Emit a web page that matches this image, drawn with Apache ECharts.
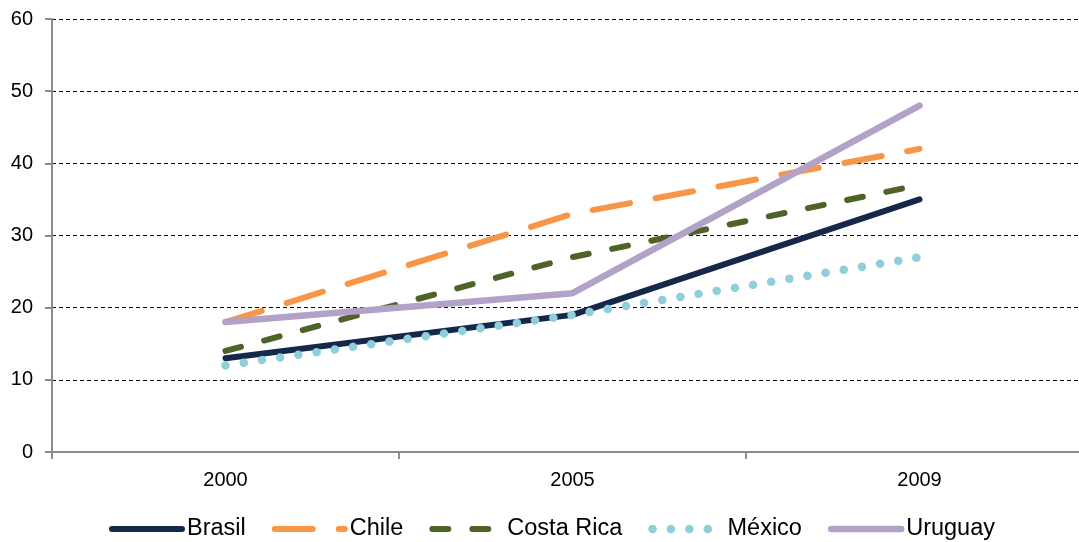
<!DOCTYPE html>
<html>
<head>
<meta charset="utf-8">
<script src="https://cdn.jsdelivr.net/npm/echarts@6/dist/echarts.min.js"></script>
<style>html,body{margin:0;padding:0;background:#fff;}#c{width:1079px;height:542px;}</style>
</head>
<body>
<div id="c"></div>
<script>
const categories = ['2000', '2005', '2009'];
const brasil = [13, 19, 35];
const chile = [18, 33, 42];
const costaRica = [14, 27, 37];
const mexico = [12, 19, 27];
const uruguay = [18, 22, 48];
const yTicks = [0, 10, 20, 30, 40, 50, 60];

const chart = echarts.init(document.getElementById('c'), null, {renderer: 'canvas'});
const font = 'Arial, "Liberation Sans", sans-serif';

function mk(name, data, color, width, type, cap) {
  return {
    name: name, type: 'line', data: data, symbol: 'none', smooth: false,
    lineStyle: {color: color, width: width, type: type, cap: cap || 'round'},
    itemStyle: {color: color},
    emphasis: {disabled: true}, animation: false
  };
}

const series = [
  mk('Brasil', brasil, '#14284a', 6, 'solid', 'round'),
  mk('Chile', chile, '#f79646', 6, [38, 26], 'round'),
  mk('Costa Rica', costaRica, '#4f6228', 6, [16, 24], 'round'),
  mk('México', mexico, '#92cddc', 8.5, [0.1, 18.3], 'round'),
  mk('Uruguay', uruguay, '#b3a2c7', 6.5, 'solid', 'round')
];

const hid = {opacity: 0};
chart.setOption({
  animation: false,
  grid: {left: 52, top: 19, height: 433, width: 1041, containLabel: false, outerBoundsMode: 'none'},
  legend: {
    left: 104, top: 512, itemWidth: 70, itemHeight: 10, itemGap: 26,
    textStyle: {fontFamily: font, fontSize: 23.5, color: '#000', padding: [0, 0, 0, 0]},
    data: [
      {name: 'Brasil', lineStyle: {width: 6}, itemStyle: hid},
      {name: 'Chile', lineStyle: {width: 6}, itemStyle: hid},
      {name: 'Costa Rica', lineStyle: {width: 6}, itemStyle: hid},
      {name: 'México', lineStyle: {width: 8.5}, itemStyle: hid},
      {name: 'Uruguay', lineStyle: {width: 6.5}, itemStyle: hid}
    ]
  },
  xAxis: {
    type: 'category', data: categories, boundaryGap: true,
    axisLine: {lineStyle: {color: '#8c8c8c', width: 2}},
    axisTick: {show: true, alignWithLabel: false, length: 7, lineStyle: {color: '#8c8c8c', width: 2}},
    axisLabel: {fontFamily: font, fontSize: 20, color: '#000', margin: 18},
    splitLine: {show: false}
  },
  yAxis: {
    type: 'value', min: yTicks[0], max: yTicks[yTicks.length - 1], interval: 10,
    axisLine: {show: true, lineStyle: {color: '#8c8c8c', width: 2}},
    axisTick: {show: true, length: 7, lineStyle: {color: '#8c8c8c', width: 2}},
    axisLabel: {fontFamily: font, fontSize: 20, color: '#000', margin: 19},
    splitLine: {show: true, lineStyle: {color: '#000', width: 1, type: [4, 3]}}
  },
  series: series
});
</script>
</body>
</html>
